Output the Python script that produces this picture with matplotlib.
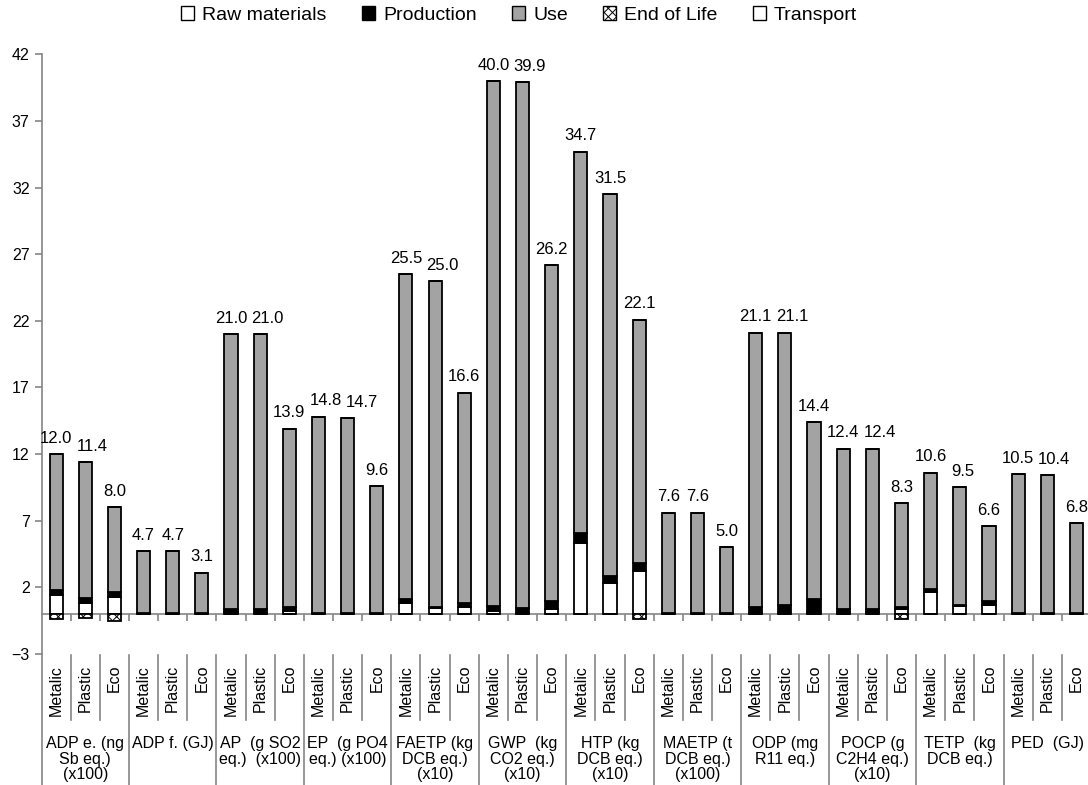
import matplotlib.pyplot as plt
from matplotlib.patches import Patch
from matplotlib.transforms import blended_transform_factory
import numpy as np


plt.rcParams["font.family"] = ["Liberation Sans", "DejaVu Sans"]
plt.rcParams["hatch.linewidth"] = 0.7

GROUP_LABELS = [
    "ADP e. (ng\nSb eq.)\n(x100)",
    "ADP f. (GJ)",
    "AP  (g SO2\neq.)  (x100)",
    "EP  (g PO4\neq.) (x100)",
    "FAETP (kg\nDCB eq.)\n(x10)",
    "GWP  (kg\nCO2 eq.)\n(x10)",
    "HTP (kg\nDCB eq.)\n(x10)",
    "MAETP (t\nDCB eq.)\n(x100)",
    "ODP (mg\nR11 eq.)",
    "POCP (g\nC2H4 eq.)\n(x10)",
    "TETP  (kg\nDCB eq.)",
    "PED  (GJ)",
]
VARIANTS = ["Metalic", "Plastic", "Eco"]

# bar totals (value labels), Metalic / Plastic / Eco per group
TOTALS = [12.0, 11.4, 8.0, 4.7, 4.7, 3.1, 21.0, 21.0, 13.9, 14.8, 14.7, 9.6,
          25.5, 25.0, 16.6, 40.0, 39.9, 26.2, 34.7, 31.5, 22.1, 7.6, 7.6, 5.0,
          21.1, 21.1, 14.4, 12.4, 12.4, 8.3, 10.6, 9.5, 6.6, 10.5, 10.4, 6.8]
RAW_MATERIALS = [1.4, 0.8, 1.25, 0.0, 0.0, 0.0, 0.15, 0.05, 0.2, 0.0, 0.0, 0.0,
                 0.85, 0.45, 0.55, 0.25, 0.1, 0.4, 5.35, 2.35, 3.25, 0.0, 0.0, 0.0,
                 0.05, 0.05, 0.15, 0.15, 0.15, 0.35, 1.65, 0.6, 0.7, 0.0, 0.0, 0.0]
PRODUCTION = [0.4, 0.4, 0.4, 0.05, 0.05, 0.05, 0.2, 0.35, 0.35, 0.05, 0.05, 0.05,
              0.25, 0.1, 0.25, 0.35, 0.35, 0.55, 0.7, 0.5, 0.6, 0.05, 0.05, 0.05,
              0.5, 0.6, 0.95, 0.25, 0.25, 0.2, 0.25, 0.1, 0.3, 0.05, 0.05, 0.05]
END_OF_LIFE = [-0.35, -0.3, -0.5, 0.0, 0.0, 0.0, 0.0, 0.0, 0.0, 0.0, 0.0, 0.0,
               0.0, 0.0, 0.0, 0.0, 0.0, 0.0, 0.0, 0.0, -0.4, 0.0, 0.0, 0.0,
               0.0, 0.0, 0.0, 0.0, 0.0, -0.4, 0.0, 0.0, 0.0, 0.0, 0.0, 0.0]
TRANSPORT = [0.0, 0.0, 0.0, 0.0, 0.0, 0.0, 0.0, 0.0, 0.0, 0.0, 0.0, 0.0,
             0.0, 0.0, 0.0, 0.0, 0.0, 0.0, 0.0, 0.0, 0.0, 0.0, 0.0, 0.0,
             0.0, 0.0, 0.0, 0.0, 0.0, 0.0, 0.0, 0.0, 0.0, 0.0, 0.0, 0.0]

GREY = "#a3a3a3"
LINE = "#858585"
W, H = 1088, 785


def fy(px):
    return 1 - px / H


def nudge_labels(fig, labels, gap_px=4):
    # push a label to the right when it collides with the one before it
    fig.canvas.draw()
    renderer = fig.canvas.get_renderer()
    for prev, cur in zip(labels[:-1], labels[1:]):
        bb_prev = prev.get_window_extent(renderer)
        bb_cur = cur.get_window_extent(renderer)
        y_overlap = bb_cur.y0 < bb_prev.y1 and bb_prev.y0 < bb_cur.y1
        if y_overlap and bb_cur.x0 < bb_prev.x1 + gap_px:
            shift = bb_prev.x1 + gap_px - bb_cur.x0
            dx, dy = cur.xyann
            cur.xyann = (dx + shift * 72 / fig.dpi, dy)


def main():
    totals = np.array(TOTALS)
    raw = np.array(RAW_MATERIALS)
    prod = np.array(PRODUCTION)
    eol = np.array(END_OF_LIFE)
    transport = np.array(TRANSPORT)
    use = totals - raw - prod - transport

    n = len(totals)
    x = np.arange(n) + 0.5

    fig = plt.figure(figsize=(W / 100, H / 100), dpi=100)
    ax = fig.add_axes([41.5 / W, fy(654), (1091 - 41.5) / W, (654 - 54.3) / H])

    kw = dict(width=0.45, edgecolor="black", linewidth=1.3, zorder=3)
    ax.bar(x, raw, color="white", **kw)
    ax.bar(x, prod, bottom=raw, color="black", **kw)
    ax.bar(x, use, bottom=raw + prod, color=GREY, **kw)
    ax.bar(x, transport, bottom=raw + prod + use, color="white", **kw)
    ax.bar(x, eol, color="white", hatch="xxxx", **kw)

    value_labels = []
    for xi, t in zip(x, totals):
        value_labels.append(
            ax.annotate(f"{t:.1f}", (xi, t), xytext=(0, 6), textcoords="offset points",
                        ha="center", va="bottom", fontsize=12)
        )

    ax.set_xlim(0, n)
    ax.set_ylim(-3, 42)
    ax.set_yticks(np.arange(-3, 43, 5))
    ax.set_xticks(np.arange(1, n + 1))
    ax.set_xticklabels([])
    ax.tick_params(axis="y", labelsize=11.5, color=LINE, length=5, width=1.2)
    ax.tick_params(axis="x", color=LINE, length=5, width=1.2)
    for side in ["top", "right"]:
        ax.spines[side].set_visible(False)
    ax.spines["bottom"].set_position(("data", 0))
    ax.spines["bottom"].set_color(LINE)
    ax.spines["bottom"].set_linewidth(1.2)
    ax.spines["left"].set_color(LINE)
    ax.spines["left"].set_linewidth(1.2)
    ax.set_facecolor("none")

    # category table under the axis
    trans = blended_transform_factory(ax.transData, fig.transFigure)
    line_kw = dict(color=LINE, linewidth=1.2, transform=trans, clip_on=False)
    ax.plot([0, 0], [fy(654), 0], **line_kw)
    for g, label in enumerate(GROUP_LABELS):
        left = 3 * g
        ax.plot([left + 3, left + 3], [fy(655), 0], **line_kw)
        for k in (1, 2):
            ax.plot([left + k, left + k], [fy(655), fy(720)], **line_kw)
        for k, variant in enumerate(VARIANTS):
            ax.text(left + k + 0.5, fy(665), variant, rotation=90, ha="center",
                    va="top", fontsize=11.5, transform=trans)
        ax.text(left + 1.5, fy(736), label, ha="center", va="top",
                fontsize=11.5, linespacing=1.05, transform=trans)

    handles = [
        Patch(facecolor="white", edgecolor="black", label="Raw materials"),
        Patch(facecolor="black", edgecolor="black", label="Production"),
        Patch(facecolor=GREY, edgecolor="black", label="Use"),
        Patch(facecolor="white", edgecolor="black", hatch="xxxx", label="End of Life"),
        Patch(facecolor="white", edgecolor="black", label="Transport"),
    ]
    fig.legend(handles=handles, loc="center", bbox_to_anchor=(519 / W, fy(15)),
               ncol=5, frameon=False, fontsize=14, handlelength=0.7,
               handleheight=0.7, handletextpad=0.4, columnspacing=1.8)

    nudge_labels(fig, value_labels)

    fig.savefig("out.png", dpi=100)
    plt.close(fig)


if __name__ == "__main__":
    main()
